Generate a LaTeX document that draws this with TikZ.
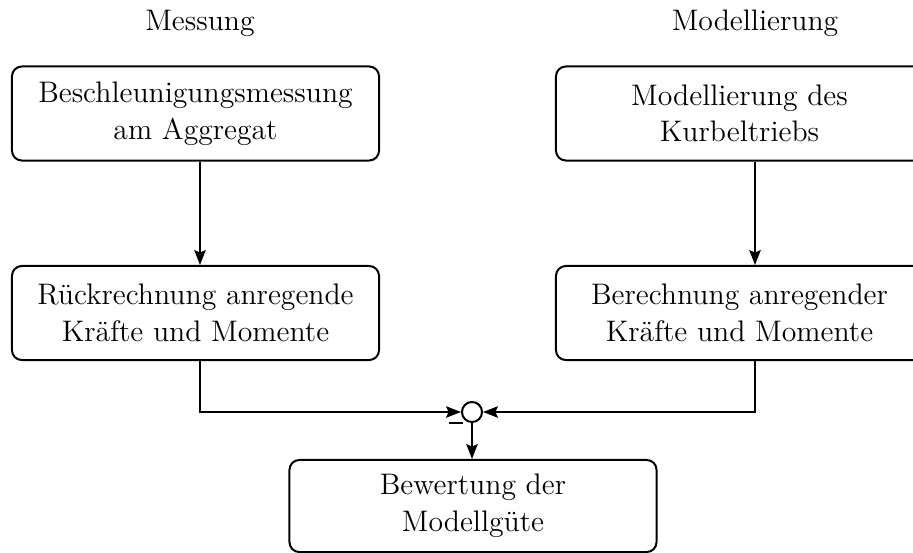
\documentclass[tikz,border=0pt]{standalone}
\usetikzlibrary{arrows.meta,positioning}
\begin{document}
\begin{tikzpicture}[x=0.404pt,y=-0.404pt,
  every node/.style={font=\fontsize{12pt}{14.8pt}\selectfont},
  blockbox/.style={draw,line width=0.8pt,rounded corners=4pt,align=center,
    minimum width=148.3pt,minimum height=38pt,inner sep=0pt},
  sumnode/.style={draw,circle,line width=0.8pt,minimum size=8.1pt,inner sep=0pt},
  arr/.style={line width=0.8pt,-{Stealth[length=6pt,width=4.6pt,inset=1pt]}},
  coltitle/.style={anchor=base}]
  \useasboundingbox (0,0) rectangle (913,552);

  % column titles
  \node[coltitle] (tM) at (200,30.5) {Messung};
  \node[coltitle] (tR) at (755,30.5) {Modellierung};

  % column axes for the vertical connectors
  \coordinate (colL) at (200,0);
  \coordinate (colR) at (755,0);

  % left column
  \node[blockbox] (meas) at (195.5,113.5) {Beschleunigungsmessung\\am Aggregat};
  \node[blockbox] (back) at (195.5,313) {Rückrechnung anregende\\Kräfte und Momente};

  % right column
  \node[blockbox] (model) at (739.5,113.5) {Modellierung des\\Kurbeltriebs};
  \node[blockbox] (calc) at (739.5,313) {Berechnung anregender\\Kräfte und Momente};

  % comparison point and evaluation
  \node[sumnode] (sum) at (472,412) {};
  \node[blockbox,minimum height=37.2pt] (eval) at (473,506) {Bewertung der\\Modellgüte};
  \node[inner sep=0pt] (minus) at (456,423) {\rule{5.7pt}{0.9pt}};

  % connectors
  \draw[arr] (meas.south -| colL) -- (back.north -| colL);
  \draw[arr] (model.south -| colR) -- (calc.north -| colR);
  \draw[arr] (back.south -| colL) |- (sum.west);
  \draw[arr] (calc.south -| colR) |- (sum.east);
  \draw[arr] (sum.south) -- (eval.north -| sum);
\end{tikzpicture}
\end{document}
